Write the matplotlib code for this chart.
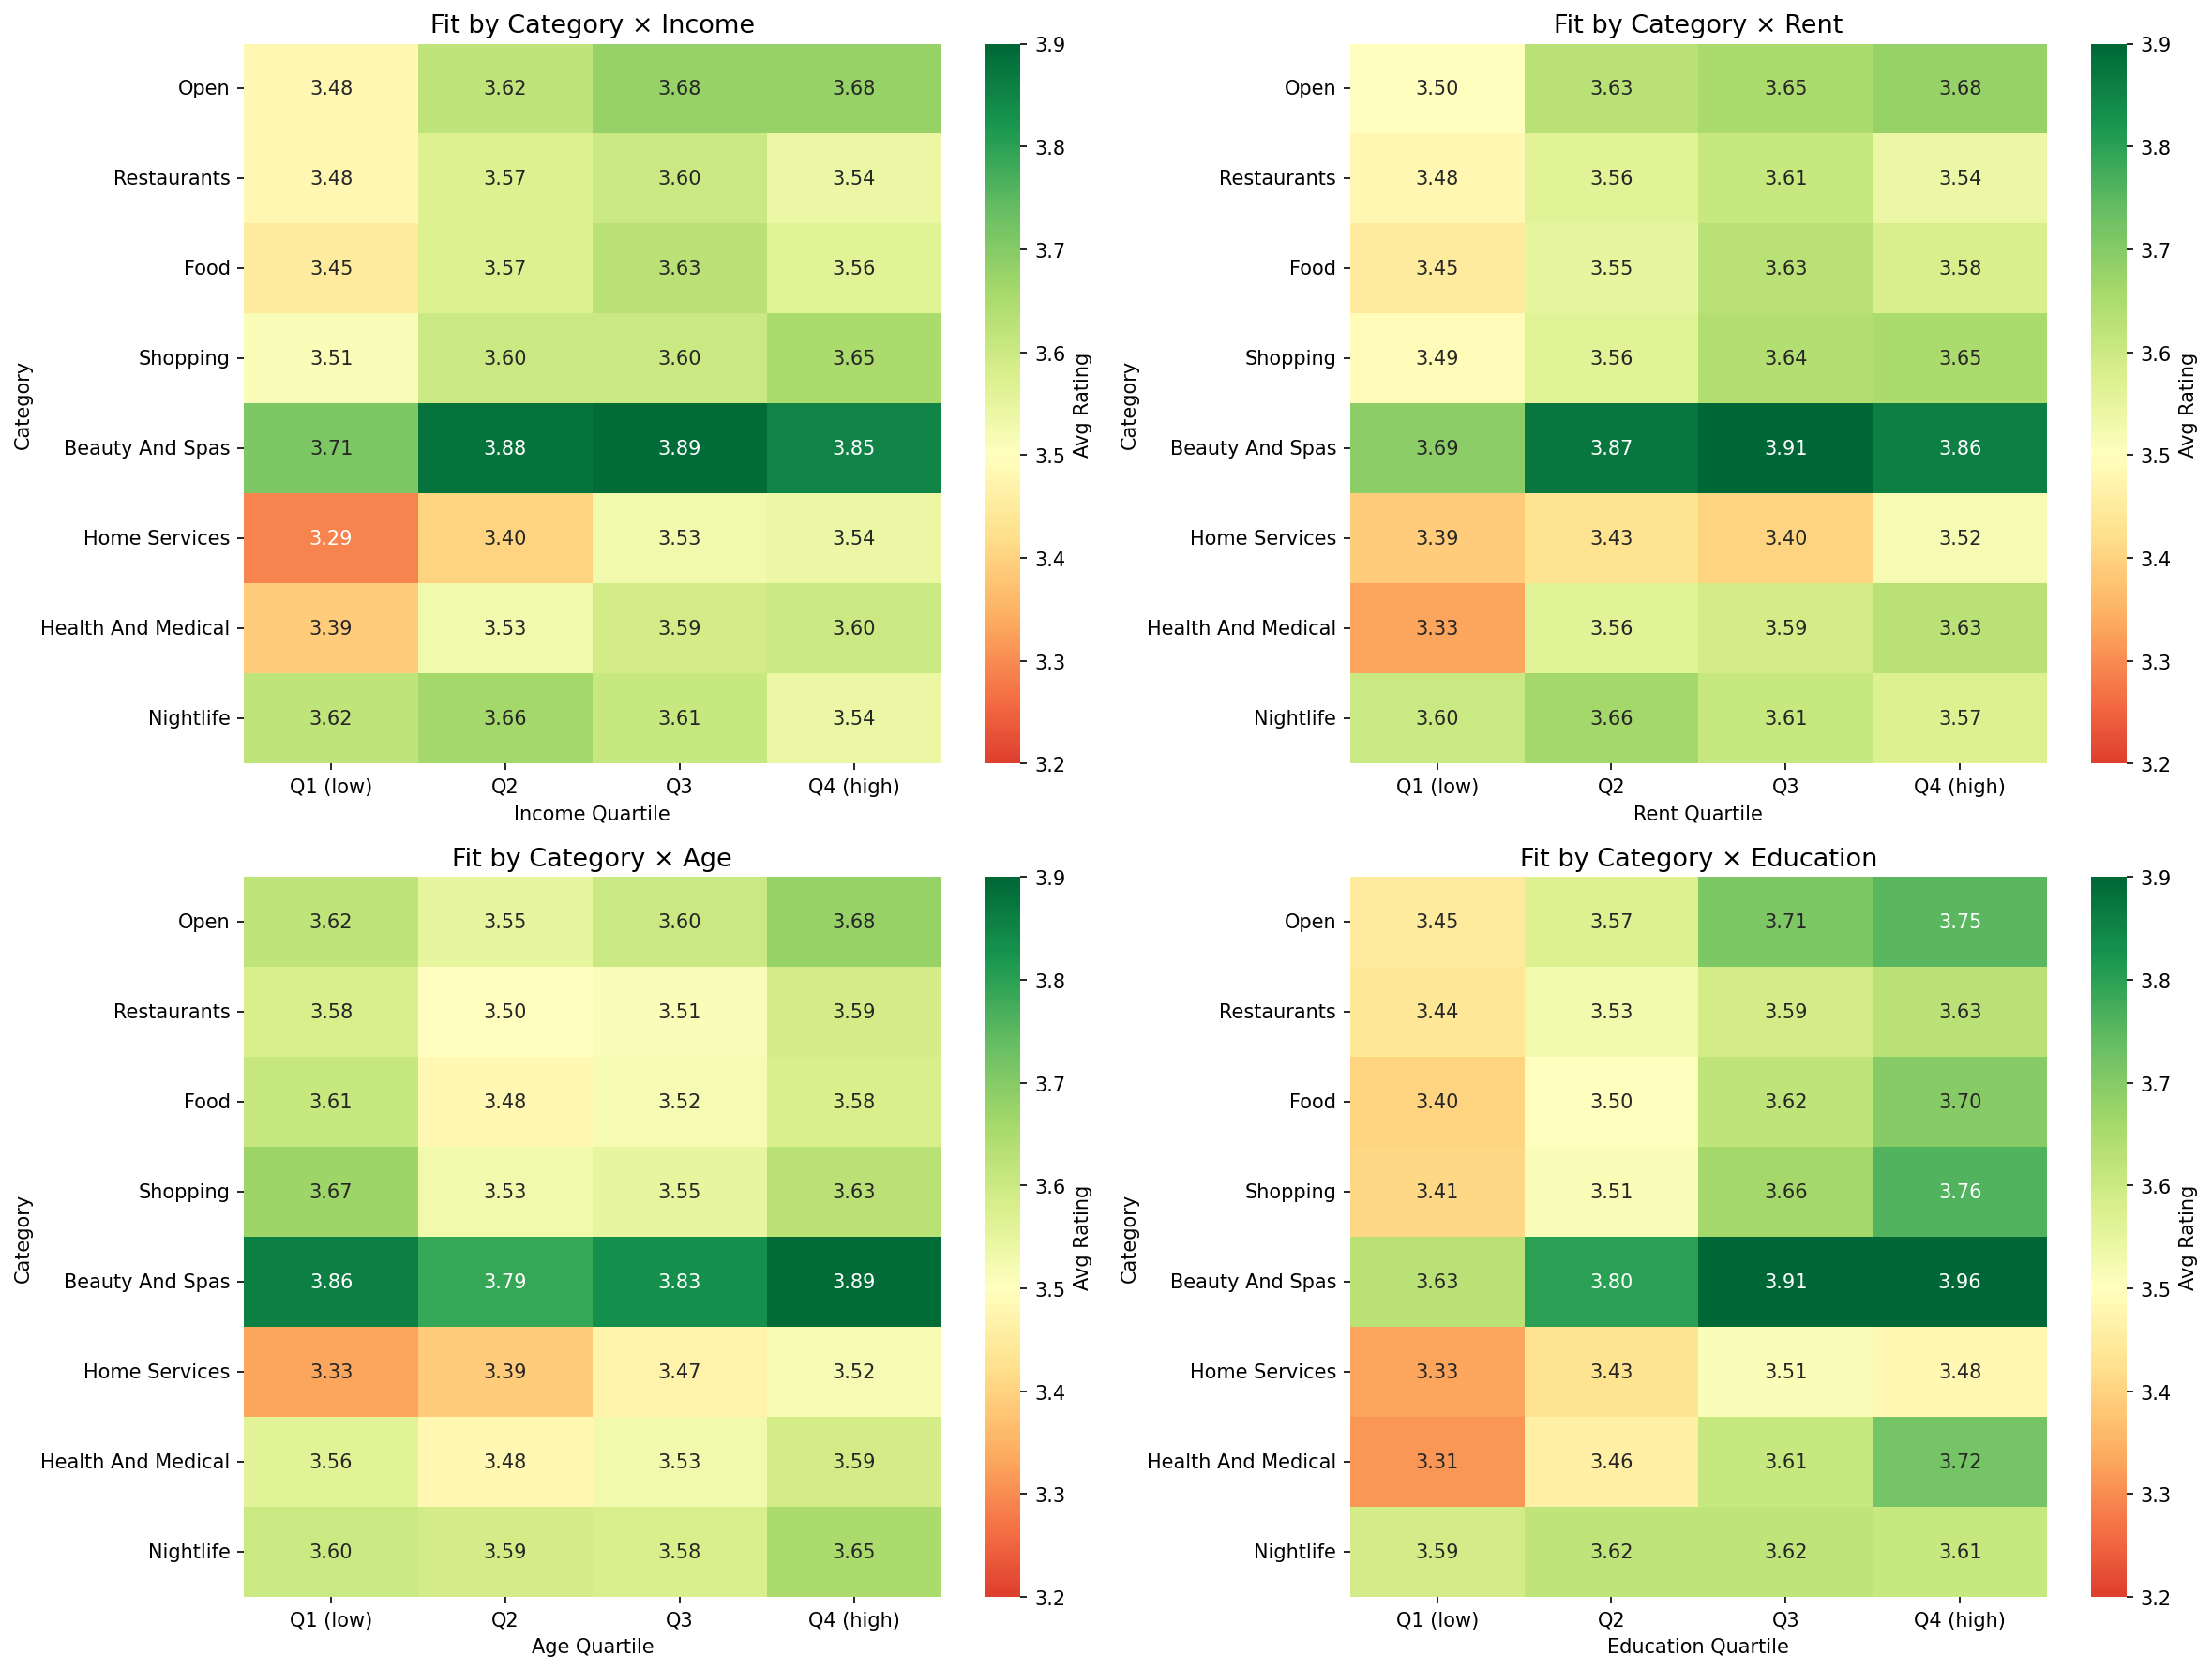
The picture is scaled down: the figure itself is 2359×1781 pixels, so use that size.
import matplotlib
matplotlib.use("Agg")
import matplotlib.pyplot as plt
import numpy as np
import pandas as pd
import seaborn as sns

categories = ["Open", "Restaurants", "Food", "Shopping", "Beauty And Spas",
              "Home Services", "Health And Medical", "Nightlife"]
quartiles = ["Q1 (low)", "Q2", "Q3", "Q4 (high)"]

income = [
    [3.48, 3.62, 3.68, 3.68],
    [3.48, 3.57, 3.60, 3.54],
    [3.45, 3.57, 3.63, 3.56],
    [3.51, 3.60, 3.60, 3.65],
    [3.71, 3.88, 3.89, 3.85],
    [3.29, 3.40, 3.53, 3.54],
    [3.39, 3.53, 3.59, 3.60],
    [3.62, 3.66, 3.61, 3.54],
]
rent = [
    [3.50, 3.63, 3.65, 3.68],
    [3.48, 3.56, 3.61, 3.54],
    [3.45, 3.55, 3.63, 3.58],
    [3.49, 3.56, 3.64, 3.65],
    [3.69, 3.87, 3.91, 3.86],
    [3.39, 3.43, 3.40, 3.52],
    [3.33, 3.56, 3.59, 3.63],
    [3.60, 3.66, 3.61, 3.57],
]
age = [
    [3.62, 3.55, 3.60, 3.68],
    [3.58, 3.50, 3.51, 3.59],
    [3.61, 3.48, 3.52, 3.58],
    [3.67, 3.53, 3.55, 3.63],
    [3.86, 3.79, 3.83, 3.89],
    [3.33, 3.39, 3.47, 3.52],
    [3.56, 3.48, 3.53, 3.59],
    [3.60, 3.59, 3.58, 3.65],
]
education = [
    [3.45, 3.57, 3.71, 3.75],
    [3.44, 3.53, 3.59, 3.63],
    [3.40, 3.50, 3.62, 3.70],
    [3.41, 3.51, 3.66, 3.76],
    [3.63, 3.80, 3.91, 3.96],
    [3.33, 3.43, 3.51, 3.48],
    [3.31, 3.46, 3.61, 3.72],
    [3.59, 3.62, 3.62, 3.61],
]

panels = [("Income", income), ("Rent", rent), ("Age", age), ("Education", education)]

fig, axes = plt.subplots(2, 2, figsize=(16, 12))
for ax, (name, vals) in zip(axes.flat, panels):
    df = pd.DataFrame(np.array(vals), index=categories, columns=quartiles)
    # centered at 3.5 so the low end stays orange-red rather than deep red
    sns.heatmap(df, ax=ax, annot=True, fmt=".2f", cmap="RdYlGn",
                vmin=3.2, vmax=3.9, center=3.5,
                cbar_kws={"label": "Avg Rating"})
    ax.set_title(f"Fit by Category \u00d7 {name}", fontsize=13)
    ax.set_xlabel(f"{name} Quartile")
    ax.set_ylabel("Category")
    ax.tick_params(axis="y", rotation=0)

fig.tight_layout()
fig.savefig("out.png", dpi=150, bbox_inches="tight")
